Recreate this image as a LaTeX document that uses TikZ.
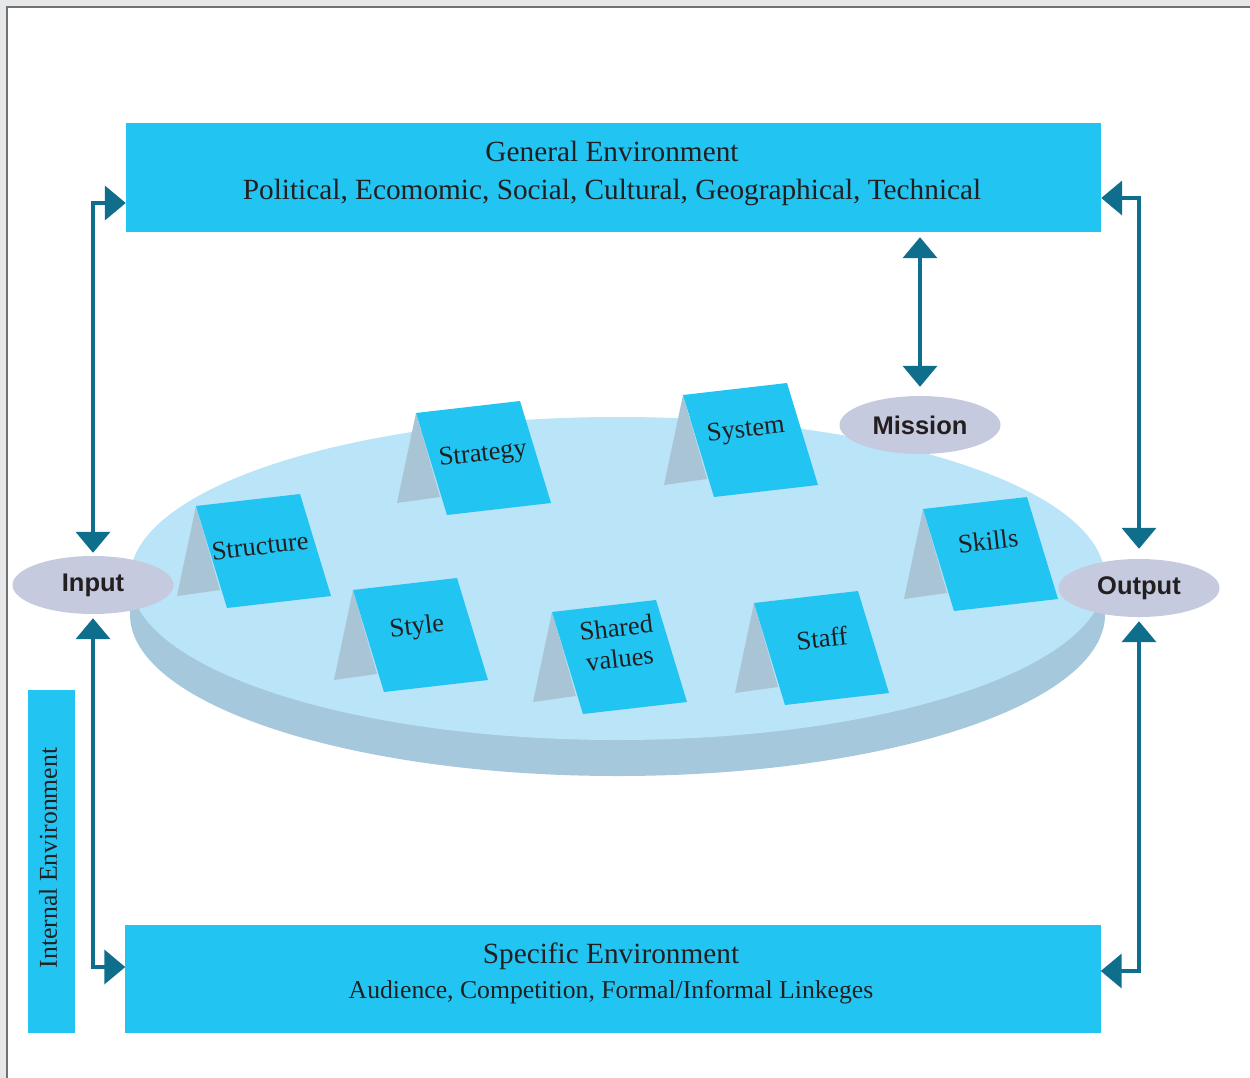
\documentclass[tikz,border=0pt]{standalone}
\usepackage{fontspec}
\setmainfont{Liberation Serif}
\newfontfamily\labelfont{Liberation Sans}
\usetikzlibrary{arrows.meta,shapes.geometric,calc}
\definecolor{cyanbox}{HTML}{22C4F2}
\definecolor{arrowteal}{HTML}{0F6E8C}
\definecolor{disktop}{HTML}{BAE4F8}
\definecolor{diskside}{HTML}{A5C8DC}
\definecolor{cardgray}{HTML}{A9C5D5}
\definecolor{ovalfill}{HTML}{C6CADF}
\definecolor{inkc}{HTML}{231F20}
\definecolor{framegray}{HTML}{E6E7E8}
\definecolor{frameline}{HTML}{707172}
\tikzset{
  envbox/.style={fill=cyanbox, draw=none, inner sep=0pt},
  oval/.style={ellipse, fill=ovalfill, minimum width=161bp, minimum height=58bp, inner sep=0pt,
    font=\labelfont\bfseries\fontsize{25.5bp}{30bp}\selectfont, text=inkc},
  link/.style={draw=arrowteal, line width=4bp,
    {Triangle[length=21bp,width=34bp]}-{Triangle[length=21bp,width=34bp]}},
  cardtext/.style={font=\fontsize{26.5bp}{31bp}\selectfont, text=inkc, align=center, rotate=6.6, inner sep=0pt},
  titletext/.style={font=\fontsize{29.3bp}{34bp}\selectfont, text=inkc, inner sep=0pt},
  subtext/.style={font=\fontsize{25.7bp}{30bp}\selectfont, text=inkc, inner sep=0pt},
}
\newcommand\tentcard[6]{%
  \fill[cardgray] (#2,#3) -- ++(-19,90) -- ++(43,-6) -- cycle;
  \fill[cyanbox] (#2,#3) -- ++(104,-12) -- ++(31,102) -- ++(-104,12) -- cycle;
  \node[cardtext] (#1) at ($(#2,#3)+(#5,#6)$) {#4};
}
\begin{document}
\begin{tikzpicture}[x=1bp,y=-1bp]
\useasboundingbox (0,0) rectangle (1250,1078);
% frame
\fill[framegray] (0,0) rectangle (1250,1078);
\fill[white] (7,7) rectangle (1250,1078);
\draw[frameline, line width=2bp] (7,1078) -- (7,7) -- (1250,7);

% environment boxes
\node[envbox, minimum width=975bp, minimum height=109bp] (gen) at (613.5,177.5) {};
\node[titletext] (gentitle) at (612,151) {General Environment};
\node[titletext] (genlist) at (612,192) {Political, Ecomomic, Social, Cultural, Geographical, Technical};

\node[envbox, minimum width=975bp, minimum height=108bp] (spec) at (613,979) {};
\node[titletext] (spectitle) at (611,956) {Specific Environment};
\node[subtext] (speclist) at (611,992) {Audience, Competition, Formal/Informal Linkeges};

\node[envbox, minimum width=47bp, minimum height=343bp] (intbox) at (51.5,861.5) {};
\node[subtext, rotate=90] (inttext) at (48,858) {Internal Environment};

% disk
\fill[diskside] (617.5,614.5) ellipse [x radius=487.5, y radius=161.5];
\fill[diskside] (130,578.5) rectangle (1105,614.5);
\fill[disktop] (617.5,578.5) ellipse [x radius=487.5, y radius=161.5];

% cards
\tentcard{structure}{196}{506}{Structure}{64}{40}
\tentcard{strategy}{416}{413}{Strategy}{67}{42}
\tentcard{system}{683}{395}{System}{63}{36}
\tentcard{style}{353}{590}{Style}{64}{38}
\tentcard{shared}{552}{612}{Shared\\values}{66}{31}
\tentcard{staff}{754}{603}{Staff}{68}{35}
\tentcard{skills}{923}{509}{Skills}{65}{32}

% ovals
\node[oval] (input) at (93,585) {Input};
\node[oval] (output) at (1139,588) {Output};
\node[oval] (mission) at (920,425) {Mission};

% connectors
\draw[link, shorten >=3bp] ([yshift=-25.5bp]gen.west) -| (input.north);
\draw[link, shorten <=4bp] (input.south) |- ([yshift=12bp]spec.west);
\draw[link, shorten >=10bp] ([yshift=-20.5bp]gen.east) -| (output.north);
\draw[link, shorten <=4bp] (output.south) |- ([yshift=8bp]spec.east);
\draw[link, shorten <=5bp, shorten >=9bp] (gen.south -| mission.north) -- (mission.north);
\end{tikzpicture}
\end{document}
